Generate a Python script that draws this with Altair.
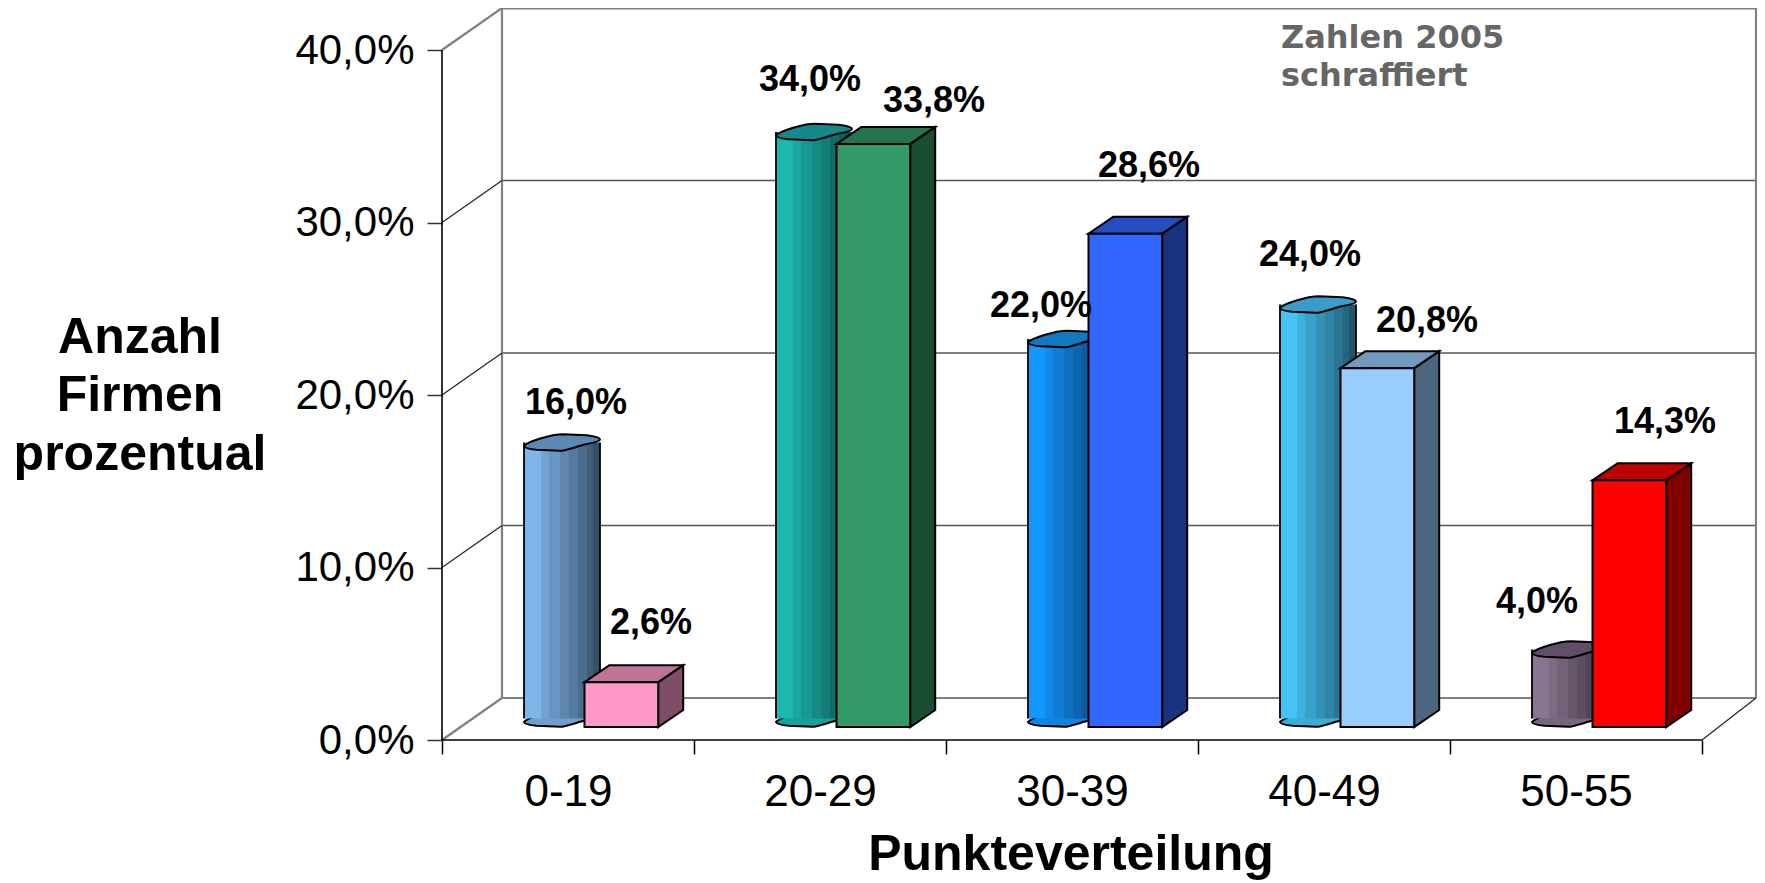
import json
import altair as alt
import pandas as pd

categories = ["0-19", "20-29", "30-39", "40-49", "50-55"]
values_cyl = [16.0, 34.0, 22.0, 24.0, 4.0]
values_box = [2.6, 33.8, 28.6, 20.8, 14.3]
colors_cyl = ["#7FB4E8", "#1CB8B0", "#1496FF", "#46C3F5", "#8A7590"]
tops_cyl = ["#5C88B3", "#14888A", "#1478C0", "#3A9CC8", "#614F66"]
colors_box = ["#FF99CC", "#339966", "#3366FF", "#99CCFF", "#FF0000"]
tops_box = ["#BF7399", "#26734D", "#264DBF", "#7399BF", "#BF0000"]
sides_box = ["#804D66", "#1A4D33", "#1A3380", "#4D6680", "#800000"]
label_px_x = [576, 651, 810, 934, 1041, 1149, 1310, 1427, 1537, 1665]
label_px_y = [403, 623, 80, 101, 306, 166, 255, 321, 602, 422]
strip_edges = [0, 17, 25, 36, 45, 54, 63, 69, 76]
strip_shades = [1.0, 0.91, 0.83, 0.75, 0.68, 0.6, 0.52, 0.44]

CAT = 252.0
PCT = 17.25
W, H = 1315, 731
LEFT, BOTTOM = 442, 740
U = lambda p: p / CAT
V = lambda p: p / PCT
XDOM = [0, W / CAT]
YDOM = [0, H / PCT]
WX, WY = U(60), V(42)
XR = U(1756 - LEFT)
DX, DY = U(25), V(17)
BASE = V(13)
OVAL = V(8.5)
FONT = "Liberation Sans"

xs = alt.Scale(domain=XDOM, nice=False, zero=False)
ys = alt.Scale(domain=YDOM, nice=False, zero=False)
X = lambda f, **k: alt.X(f, type="quantitative", scale=xs, title=None, **k)
Y = lambda f, **k: alt.Y(f, type="quantitative", scale=ys, title=None, **k)
X2 = lambda f: alt.X2(f)
Y2 = lambda f: alt.Y2(f)


def shade(c, f):
    r, g, b = (int(c[i:i + 2], 16) for i in (1, 3, 5))
    return "#%02x%02x%02x" % (int(r * f), int(g * f), int(b * f))


def rules(rows, color, width):
    df = pd.DataFrame(rows, columns=["x", "y", "x2", "y2"])
    return alt.Chart(df).mark_rule(color=color, strokeWidth=width, clip=False).encode(
        x=X("x"), y=Y("y"), x2=X2("x2"), y2=Y2("y2"))


grid = rules([[WX, v + WY, XR, v + WY] for v in (10, 20, 30)], "#555555", 1.5)
top_line = rules([[WX, 40 + V(41.3), XR, 40 + V(41.3)]], "#808080", 1.8)
walls = rules([[WX, WY, WX, 40 + WY], [XR, WY, XR, 40 + WY],
               [WX, WY, XR, WY], [0, 0, WX, WY], [0, 40, WX, 40 + WY]], "#808080", 2.2)
diag = rules([[0, v, WX, v + WY] for v in (10, 20, 30)] + [[5, 0, XR, WY]], "#222222", 1.2)
front = rules([[0, 0, 5, 0]], "#000000", 1.6)
y_line = rules([[0, 0, 0, 40]], "#000000", 1.6)

axes = alt.Chart(pd.DataFrame({"x": [0.0], "y": [0.0]})).mark_point(opacity=0).encode(
    x=alt.X("x:Q", scale=xs, title=None, axis=alt.Axis(
        values=list(range(6)), domain=False, grid=False, tickSize=14, tickColor="#000000",
        tickWidth=1.5, labelFont=FONT, labelFontSize=44, labelColor="#000000",
        labelPadding=16, labelOffset=CAT / 2, labelAngle=0, labelAlign="center",
        labelBaseline="top", labelFlush=False, labelOverlap=False,
        labelExpr=json.dumps(categories + [""]) + "[datum.value]")),
    y=alt.Y("y:Q", scale=ys, title=None, axis=alt.Axis(
        values=[0, 10, 20, 30, 40], domain=False, grid=False, tickSize=15, tickColor="#333333",
        tickWidth=1.5, labelFont=FONT, labelFontSize=42, labelColor="#000000",
        labelPadding=13, labelFlush=False, labelOverlap=False,
        labelExpr="replace(format(datum.value, '.1f'), '.', ',') + '%'")),
)

strips, ovals_top, ovals_bot, edges = [], [], [], []
for i, v in enumerate(values_cyl):
    left = i + U(82)
    top = v + BASE + OVAL
    for j, f in enumerate(strip_shades):
        strips.append({"x": left + U(strip_edges[j]), "x2": left + U(strip_edges[j + 1]),
                       "y": top, "y2": BASE + OVAL, "c": shade(colors_cyl[i], f)})
    ovals_top.append({"x": left + U(38), "y": top, "c": tops_cyl[i]})
    ovals_bot.append({"x": left + U(38), "y": BASE + OVAL, "c": shade(colors_cyl[i], 0.88)})
    edges += [[left, BASE + OVAL, left, top], [left + U(76), BASE + OVAL, left + U(76), top]]

OVAL_PATH = ("M-1,.09 C-.9,-.02 -.3,-.22 .03,-.22 L.65,-.19 C.8,-.17 1,-.14 1,-.08 "
             "C1,-.02 .7,.03 .65,.04 C.4,.1 .1,.22 -.05,.22 L-.67,.19 C-.85,.17 -1,.14 -1,.09 Z")


def ovals(rows):
    return alt.Chart(pd.DataFrame(rows)).mark_point(
        shape=OVAL_PATH, size=76 ** 2, filled=True, stroke="#000000", strokeWidth=2,
        fillOpacity=1, opacity=1).encode(
        x=X("x"), y=Y("y"), fill=alt.Fill("c:N", scale=None))


bot_layer = ovals(ovals_bot)
strip_layer = alt.Chart(pd.DataFrame(strips)).mark_rect(strokeWidth=0).encode(
    x=X("x"), x2=X2("x2"), y=Y("y"), y2=Y2("y2"), color=alt.Color("c:N", scale=None))
edge_layer = rules(edges, "#000000", 1.8)
top_layer = ovals(ovals_top)

fronts, side_pts, top_pts = [], [], []
for i, v in enumerate(values_box):
    l, r = i + U(142.5), i + U(216.2)
    t = v + BASE
    fronts.append({"x": l, "x2": r, "y": t, "y2": BASE, "c": colors_box[i]})
    side_pts += [{"g": i, "x": r, "y": t, "y2": BASE, "c": sides_box[i]},
                 {"g": i, "x": r + DX, "y": t + DY, "y2": BASE + DY, "c": sides_box[i]}]
    top_pts += [{"g": i, "x": l, "x2": r, "y": t, "c": tops_box[i]},
                {"g": i, "x": l + DX, "x2": r + DX, "y": t + DY, "c": tops_box[i]}]

side_layer = alt.Chart(pd.DataFrame(side_pts)).mark_area(
    orient="vertical", stroke="#000000", strokeWidth=2, opacity=1).encode(
    x=X("x"), y=Y("y"), y2=Y2("y2"), detail="g:N", fill=alt.Fill("c:N", scale=None))
top_box_layer = alt.Chart(pd.DataFrame(top_pts)).mark_area(
    orient="horizontal", stroke="#000000", strokeWidth=2, opacity=1).encode(
    y=Y("y"), x=X("x"), x2=X2("x2"), detail="g:N", fill=alt.Fill("c:N", scale=None))
front_layer = alt.Chart(pd.DataFrame(fronts)).mark_rect(stroke="#000000", strokeWidth=2).encode(
    x=X("x"), x2=X2("x2"), y=Y("y"), y2=Y2("y2"), color=alt.Color("c:N", scale=None))

all_values = [x for pair in zip(values_cyl, values_box) for x in pair]
labels_df = pd.DataFrame({
    "t": [f"{v:.1f}".replace(".", ",") + "%" for v in all_values],
    "x": [U(p - LEFT) for p in label_px_x],
    "y": [V(BOTTOM - p) for p in label_px_y],
})
labels = alt.Chart(labels_df).mark_text(
    font=FONT, fontWeight="bold", fontSize=36, color="#000000", align="center", baseline="middle"
).encode(x=X("x"), y=Y("y"), text="t:N")

note = alt.Chart(pd.DataFrame({"x": [U(1281 - LEFT)], "y": [V(BOTTOM - 38)], "t": [["Zahlen 2005", "schraffiert"]]})).mark_text(
    font="DejaVu Sans", fontWeight="bold", fontSize=32, color="#666666", align="left", baseline="middle", lineHeight=38
).encode(x=X("x"), y=Y("y"), text="t")

ytitle = alt.Chart(pd.DataFrame({"x": [U(140 - LEFT)], "y": [V(BOTTOM - 352.7)], "t": [["Anzahl", "Firmen", "prozentual"]]})).mark_text(
    font=FONT, fontWeight="bold", fontSize=50, color="#000000", align="center", baseline="alphabetic", lineHeight=58.7
).encode(x=X("x"), y=Y("y"), text="t")

xtitle = alt.Chart(pd.DataFrame({"x": [U(1071 - LEFT)], "y": [V(BOTTOM - 870)], "t": ["Punkteverteilung"]})).mark_text(
    font=FONT, fontWeight="bold", fontSize=50, color="#000000", align="center", baseline="alphabetic"
).encode(x=X("x"), y=Y("y"), text="t")

chart = alt.layer(
    axes, top_line, grid, walls, diag, front, y_line,
    bot_layer, strip_layer, edge_layer, top_layer,
    side_layer, top_box_layer, front_layer,
    labels, note, ytitle, xtitle,
).properties(
    width=W, height=H, autosize="none",
    padding={"left": 434, "top": 1, "right": 0, "bottom": 143},
    background="#ffffff",
).configure_view(stroke=None)

chart.save("out.html", embed_options={"renderer": "svg", "actions": False})
